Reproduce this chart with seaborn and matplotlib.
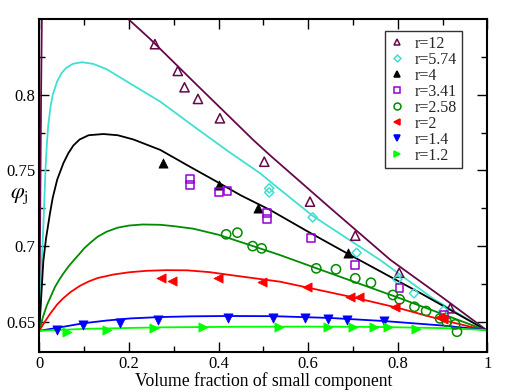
import matplotlib
matplotlib.use("Agg")
import matplotlib.pyplot as plt
import seaborn as sns
import pandas as pd

# series names
labels = ["r=12", "r=5.74", "r=4", "r=3.41", "r=2.58", "r=2", "r=1.4", "r=1.2"]

# model curves
c12_x = [0, 0.002, 0.004, 0.006, 0.01, 0.03, 0.07, 0.12, 0.199, 0.247, 0.35, 0.478, 0.515, 0.65, 0.783, 0.9, 1.0]
c12_y = [0.644, 0.72, 0.80, 0.86, 0.92, 0.95, 0.93, 0.895, 0.85, 0.837, 0.807, 0.770, 0.760, 0.725, 0.691, 0.666, 0.644]

c574_x = [0, 0.003, 0.006, 0.01, 0.014, 0.017, 0.02, 0.025, 0.03, 0.04, 0.05, 0.06, 0.075, 0.095, 0.12,
          0.15, 0.2, 0.27, 0.35, 0.42, 0.493, 0.515, 0.61, 0.761, 0.88, 1.0]
c574_y = [0.644, 0.665, 0.692, 0.72, 0.752, 0.768, 0.780, 0.792, 0.800, 0.809, 0.8145, 0.8178, 0.8205, 0.8216, 0.8205,
          0.817, 0.808, 0.7955, 0.778, 0.763, 0.7481, 0.7427, 0.720, 0.6907, 0.665, 0.644]

c4_x = [0, 0.004, 0.009, 0.015, 0.024, 0.03, 0.04, 0.054, 0.065, 0.076, 0.09, 0.11, 0.143, 0.175, 0.21,
        0.27, 0.33, 0.396, 0.45, 0.515, 0.6, 0.69, 0.85, 1.0]
c4_y = [0.644, 0.665, 0.690, 0.705, 0.722, 0.732, 0.744, 0.755, 0.7615, 0.7665, 0.7705, 0.7733, 0.7741, 0.7733, 0.7705,
        0.7636, 0.7535, 0.7426, 0.7335, 0.7239, 0.7095, 0.6947, 0.669, 0.644]

c258_x = [0, 0.008, 0.017, 0.026, 0.035, 0.045, 0.054, 0.065, 0.078, 0.09, 0.1, 0.113, 0.13, 0.15, 0.175, 0.2, 0.23,
          0.27, 0.3, 0.344, 0.4, 0.47, 0.537, 0.619, 0.805, 1.0]
c258_y = [0.644, 0.653, 0.661, 0.667, 0.673, 0.678, 0.682, 0.6865, 0.691, 0.695, 0.6985, 0.702, 0.7062, 0.7095, 0.7122, 0.7136, 0.7143,
          0.7141, 0.7132, 0.7115, 0.7075, 0.7007, 0.6941, 0.6853, 0.6655, 0.644]

c2_x = [0, 0.01, 0.024, 0.04, 0.054, 0.07, 0.091, 0.11, 0.13, 0.165, 0.2, 0.24, 0.284, 0.33, 0.38, 0.426, 0.537, 0.597, 0.701, 0.8, 0.895, 1.0]
c2_y = [0.644, 0.649, 0.6552, 0.6615, 0.6657, 0.6697, 0.6738, 0.6766, 0.6789, 0.6812, 0.6827, 0.6837, 0.6841, 0.684, 0.6828, 0.6809, 0.6765, 0.6727, 0.6661, 0.6592, 0.6515, 0.644]

c14_x = [0, 0.05, 0.098, 0.15, 0.2025, 0.269, 0.34, 0.418, 0.522, 0.65, 0.768, 0.9, 1.0]
c14_y = [0.644, 0.6465, 0.649, 0.6508, 0.6522, 0.6531, 0.6536, 0.6538, 0.6537, 0.6525, 0.6505, 0.6475, 0.6445]

c12s_x = [0, 0.1, 0.269, 0.45, 0.6, 0.75, 0.9, 1.0]
c12s_y = [0.644, 0.6453, 0.6463, 0.6467, 0.6468, 0.6466, 0.6458, 0.6445]

# simulation points
p12_x = [0.258, 0.309, 0.324, 0.354, 0.403, 0.502, 0.604, 0.705, 0.803, 0.917]
p12_y = [0.8335, 0.8158, 0.805, 0.7973, 0.7845, 0.7558, 0.7294, 0.7069, 0.6824, 0.6589]

p574_x = [0.513, 0.513, 0.610, 0.708, 0.799, 0.836, 0.902]
p574_y = [0.7382, 0.7355, 0.719, 0.6956, 0.678, 0.6688, 0.6573]

p4_x = [0.277, 0.400, 0.489, 0.688]
p4_y = [0.7548, 0.7404, 0.7255, 0.6952]

p341_x = [0.336, 0.336, 0.401, 0.420, 0.509, 0.509, 0.6065, 0.7047, 0.8036, 0.9033]
p341_y = [0.7442, 0.7404, 0.7356, 0.7366, 0.7217, 0.718, 0.7052, 0.6875, 0.6721, 0.6544]

p258_x = [0.417, 0.442, 0.476, 0.496, 0.618, 0.662, 0.705, 0.740, 0.789, 0.804, 0.837, 0.863, 0.894, 0.909, 0.928, 0.932]
p258_y = [0.7078, 0.7089, 0.700, 0.6985, 0.6853, 0.6847, 0.6787, 0.6758, 0.6677, 0.6648, 0.6599, 0.6571, 0.6522, 0.650, 0.6483, 0.6434]

p2_x = [0.271, 0.297, 0.398, 0.496, 0.597, 0.694, 0.714, 0.794, 0.894, 0.900]
p2_y = [0.6787, 0.6769, 0.6787, 0.6765, 0.6727, 0.6665, 0.6661, 0.6595, 0.6529, 0.6516]

p14_x = [0.039, 0.097, 0.179, 0.264, 0.421, 0.522, 0.592, 0.645, 0.686, 0.768]
p14_y = [0.6445, 0.6478, 0.6493, 0.6511, 0.6526, 0.6526, 0.6522, 0.6516, 0.6511, 0.6505]

p12s_x = [0.061, 0.150, 0.255, 0.366, 0.534, 0.645, 0.700, 0.746, 0.779, 0.841]
p12s_y = [0.6434, 0.6445, 0.6456, 0.6463, 0.6463, 0.6467, 0.6463, 0.6463, 0.6463, 0.645]

x_ticks = [0, 0.2, 0.4, 0.6, 0.8, 1]
x_ticklabels = ["0", "0.2", "0.4", "0.6", "0.8", "1"]
y_ticks = [0.65, 0.7, 0.75, 0.8]
y_ticklabels = ["0.65", "0.7", "0.75", "0.8"]

sns.set_style("ticks")
plt.rcParams["font.family"] = ["Liberation Serif", "DejaVu Serif"]
plt.rcParams["mathtext.fontset"] = "stix"
serif = ["Liberation Serif", "DejaVu Serif"]

colors = ["#670748", "#40E0D0", "black", "#9400D3", "#008B00", "#FF0000", "#0000FF", "#00FF00"]
markers = ["^", "D", "^", "s", "o", "<", "v", ">"]
filled = [False, False, True, False, False, True, True, True]
sizes = [44, 22, 44, 32, 44, 44, 44, 44]

curves = [(c12_x, c12_y), (c574_x, c574_y), (c4_x, c4_y), None,
          (c258_x, c258_y), (c2_x, c2_y), (c14_x, c14_y), (c12s_x, c12s_y)]
points = [(p12_x, p12_y), (p574_x, p574_y), (p4_x, p4_y), (p341_x, p341_y),
          (p258_x, p258_y), (p2_x, p2_y), (p14_x, p14_y), (p12s_x, p12s_y)]

fig = plt.figure(figsize=(5.07, 3.92), dpi=100)
ax = fig.add_axes([0.0775, 0.102, 0.884, 0.849])

for i, lab in enumerate(labels):
    if curves[i] is not None:
        cdf = pd.DataFrame({"x": curves[i][0], "y": curves[i][1]})
        sns.lineplot(data=cdf, x="x", y="y", color=colors[i], lw=1.3,
                     sort=False, estimator=None, ax=ax, zorder=2)

handles = []
for i, lab in enumerate(labels):
    pdf = pd.DataFrame({"x": points[i][0], "y": points[i][1]})
    if filled[i]:
        sns.scatterplot(data=pdf, x="x", y="y", marker=markers[i], s=sizes[i],
                        color=colors[i], edgecolor=colors[i], linewidth=0.5,
                        ax=ax, zorder=3)
    else:
        sns.scatterplot(data=pdf, x="x", y="y", marker=markers[i], s=sizes[i],
                        facecolor="none", edgecolor=colors[i], linewidth=1.1,
                        ax=ax, zorder=3)
    handles.append(plt.Line2D([], [], ls="", marker=markers[i], color=colors[i],
                              mfc=colors[i] if filled[i] else "none",
                              mec=colors[i], mew=1.1,
                              ms=5 if markers[i] != "D" else 3.5))

ax.set_xlim(0, 1)
ax.set_ylim(0.63, 0.85)
ax.set_xticks(x_ticks)
ax.set_xticklabels(x_ticklabels, fontsize=12, family=serif)
ax.set_yticks(y_ticks)
ax.set_yticklabels(y_ticklabels, fontsize=12, family=serif)
ax.set_xticks([0.1, 0.3, 0.5, 0.7, 0.9], minor=True)
ax.set_yticks([0.675, 0.725, 0.775, 0.825], minor=True)
ax.tick_params(which="both", direction="in", top=True, right=True, width=1, pad=3,
               color="black", labelcolor="black")
ax.tick_params(which="major", length=7)
ax.tick_params(which="minor", length=4)
for sp in ax.spines.values():
    sp.set_linewidth(1.5)
    sp.set_color("black")

ax.set_xlabel("Volume fraction of small component", fontsize=12.7, labelpad=0,
              family=serif, color="black")
ax.set_ylabel(r"$\varphi_{\mathrm{j}}$", fontsize=16, rotation=0, color="black")
ax.yaxis.set_label_coords(-0.045, 0.44)

leg = ax.legend(handles, labels, loc="upper right", bbox_to_anchor=(0.943, 0.965),
                prop={"family": serif, "size": 11.5}, frameon=True, fancybox=False,
                handlelength=1.0, handletextpad=0.6, labelspacing=0.0,
                borderpad=0.3, borderaxespad=0)
leg.get_frame().set_edgecolor("black")
leg.get_frame().set_linewidth(1.0)

fig.savefig("out.png", dpi=100)
